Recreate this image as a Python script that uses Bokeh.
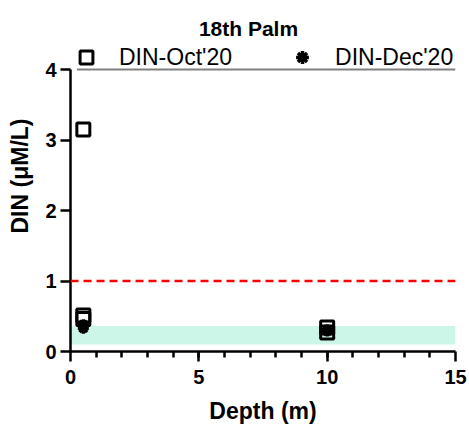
from bokeh.plotting import figure
from bokeh.models import (Range1d, FixedTicker, Span, BoxAnnotation, Legend, LegendItem,
                          ColumnDataSource, Label)
from bokeh.embed import file_html
from bokeh.resources import INLINE

# DIN concentrations by sampling depth
depth_oct = [0.5, 0.5, 0.5, 10, 10]
din_oct = [3.15, 0.51, 0.46, 0.34, 0.27]
depth_dec = [0.5, 0.5, 10, 10]
din_dec = [0.38, 0.33, 0.31, 0.29]

# reference levels
threshold = 1.0
band_low, band_high = 0.1, 0.36
top_line = 4.0
top_line_start, top_line_end = 0.25, 15

x_ticks = [0, 5, 10, 15]
y_ticks = [0, 1, 2, 3, 4]
y_max_axis = 4
y_top = 4.979   # headroom above the axis for the title and legend rows

FONT = "Liberation Sans"

p = figure(width=469, height=431, output_backend="svg", toolbar_location=None,
           x_range=Range1d(0, 15), y_range=Range1d(0, y_top),
           min_border_left=70, min_border_right=14, min_border_top=0, min_border_bottom=80)
p.outline_line_color = None
p.grid.visible = False
p.background_fill_color = "white"

# title drawn inside the headroom, offsets in px from the frame's bottom-left
p.add_layout(Label(x=178, y=323, x_units="screen", y_units="screen", text="18th Palm",
                   text_align="center", text_baseline="alphabetic", text_font=FONT,
                   text_font_size="21px", text_font_style="bold", text_color="black"))

# shaded band and threshold line
p.add_layout(BoxAnnotation(bottom=band_low, top=band_high, left=0, right=15,
                           fill_color="#ccf6e7", fill_alpha=1.0, line_color=None, level="underlay"))
p.add_layout(Span(location=threshold, dimension="width", line_color="red",
                  line_width=2.5, line_dash="8 5"))
p.segment(x0=[top_line_start], y0=[top_line], x1=[top_line_end], y1=[top_line],
          line_color="#808080", line_width=2)

src_dec = ColumnDataSource(dict(x=depth_dec, y=din_dec))
src_oct = ColumnDataSource(dict(x=depth_oct, y=din_oct))

dec_star = p.scatter("x", "y", source=src_dec, marker="asterisk", size=11,
                     line_color="black", line_width=3.5)
oct_sq = p.scatter("x", "y", source=src_oct, marker="square", size=13,
                   fill_color=None, line_color="black", line_width=3)

legend = Legend(items=[LegendItem(label="DIN-Oct'20", renderers=[oct_sq]),
                       LegendItem(label="DIN-Dec'20", renderers=[dec_star])],
                orientation="horizontal", location=(0, 278),
                glyph_width=32, glyph_height=32, label_standoff=17, spacing=54,
                padding=2, margin=0, border_line_color=None,
                background_fill_alpha=0, label_text_font=FONT,
                label_text_font_size="23px", label_text_color="black")
p.add_layout(legend, "center")

for ax in (p.xaxis[0], p.yaxis[0]):
    ax.axis_line_width = 2.5
    ax.axis_line_color = "black"
    ax.major_tick_line_width = 2.5
    ax.major_tick_line_color = "black"
    ax.major_tick_out = 10
    ax.major_tick_in = 0
    ax.major_label_text_font = FONT
    ax.major_label_text_font_size = "20px"
    ax.major_label_text_font_style = "bold"
    ax.major_label_text_color = "black"
    ax.axis_label_text_font = FONT
    ax.axis_label_text_font_size = "23px"
    ax.axis_label_text_font_style = "bold"
    ax.axis_label_text_color = "black"

p.xaxis.ticker = FixedTicker(ticks=x_ticks, minor_ticks=list(range(1, 15)))
p.xaxis.minor_tick_line_width = 2.5
p.xaxis.minor_tick_line_color = "black"
p.xaxis.minor_tick_out = 6
p.xaxis.minor_tick_in = 0
p.xaxis.axis_label = "Depth (m)"
p.xaxis.major_label_standoff = 8
p.xaxis.axis_label_standoff = 11

p.yaxis.ticker = FixedTicker(ticks=y_ticks)
p.yaxis.bounds = (0, y_max_axis)
p.yaxis.minor_tick_line_color = None
p.yaxis.axis_label = "DIN (μM/L)"
p.yaxis.axis_label_text_align = "center"
p.yaxis.major_label_standoff = 4
p.yaxis.axis_label_standoff = 9

open("out.html", "w").write(file_html(p, INLINE))
